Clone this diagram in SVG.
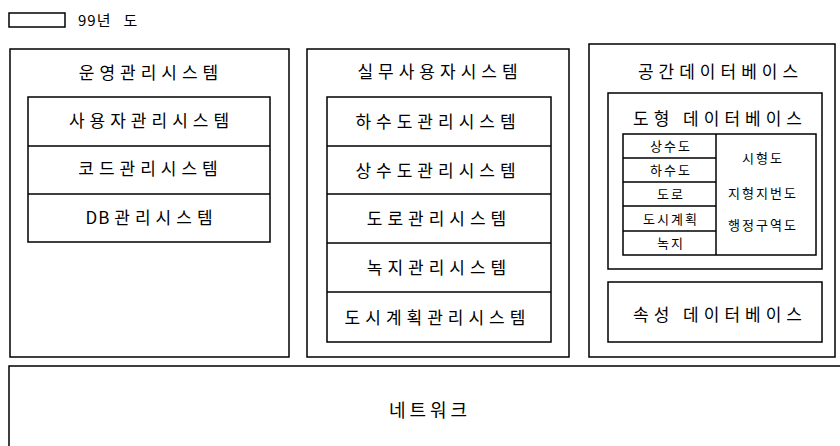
<svg xmlns="http://www.w3.org/2000/svg" width="840" height="446" viewBox="0 0 840 446">
<style>
.b{fill:#fff;stroke:#000;stroke-width:1.5}
.n{fill:none;stroke:#000;stroke-width:1.5}
text{font-family:"Noto Sans CJK KR","Noto Sans",sans-serif;fill:#000;text-anchor:middle}
.t{font-size:17px;letter-spacing:5px}
.s{font-size:13px;letter-spacing:2px}
</style>
<rect width="840" height="446" fill="#fff"/>
<g id="legend">
<rect class="b" x="9" y="13" width="56" height="14"/>
<text x="78" y="25.5" style="font-size:15px;text-anchor:start"><tspan style="letter-spacing:1px">99</tspan><tspan style="letter-spacing:13px">년</tspan>도</text>
</g>
<g id="ops">
<rect class="b" x="10" y="49" width="279" height="308"/>
<text class="t" x="151" y="78.5">운영관리시스템</text>
<rect class="b" x="28" y="97" width="242" height="145"/>
<line class="n" x1="28" y1="146" x2="270" y2="146"/>
<line class="n" x1="28" y1="194" x2="270" y2="194"/>
<text class="t" x="151.5" y="126.5">사용자관리시스템</text>
<text class="t" x="150.5" y="174.5">코드관리시스템</text>
<text class="t" x="151.5" y="223.5"><tspan style="letter-spacing:1px">D</tspan>B관리시스템</text>
</g>
<g id="user">
<rect class="b" x="307" y="49" width="262" height="308"/>
<text class="t" x="440" y="77.5">실무사용자시스템</text>
<rect class="b" x="327" y="97" width="224" height="245"/>
<line class="n" x1="327" y1="146" x2="551" y2="146"/>
<line class="n" x1="327" y1="194" x2="551" y2="194"/>
<line class="n" x1="327" y1="243" x2="551" y2="243"/>
<line class="n" x1="327" y1="292" x2="551" y2="292"/>
<text class="t" x="438" y="127.5">하수도관리시스템</text>
<text class="t" x="438" y="176.5">상수도관리시스템</text>
<text class="t" x="439" y="224.5">도로관리시스템</text>
<text class="t" x="439" y="273.5">녹지관리시스템</text>
<text class="t" x="437.5" y="323.5">도시계획관리시스템</text>
</g>
<g id="spatial">
<rect class="b" x="589" y="44" width="246" height="313"/>
<text class="t" x="720.5" y="77.5">공간데이터베이스</text>
<rect class="b" x="608" y="93" width="214" height="176"/>
<text class="t" x="720" y="124.5">도형 데이터베이스</text>
<rect class="b" x="623" y="134" width="193" height="121"/>
<line class="n" x1="716" y1="134" x2="716" y2="255"/>
<line class="n" x1="623" y1="158" x2="716" y2="158"/>
<line class="n" x1="623" y1="182" x2="716" y2="182"/>
<line class="n" x1="623" y1="206" x2="716" y2="206"/>
<line class="n" x1="623" y1="231" x2="716" y2="231"/>
<text class="s" x="671" y="151">상수도</text>
<text class="s" x="671" y="175">하수도</text>
<text class="s" x="671" y="199">도로</text>
<text class="s" x="671" y="223.5">도시계획</text>
<text class="s" x="671" y="248">녹지</text>
<text class="s" x="763" y="163">시형도</text>
<text class="s" x="763" y="198">지형지번도</text>
<text class="s" x="763" y="230">행정구역도</text>
<rect class="b" x="608" y="282" width="214" height="60"/>
<text class="t" x="720" y="320.5">속성 데이터베이스</text>
</g>
<g id="network">
<rect class="b" x="9" y="366" width="840" height="100"/>
<text x="430" y="417" style="font-size:18px;letter-spacing:4px">네트워크</text>
</g>
<g id="connectors"></g>
</svg>
